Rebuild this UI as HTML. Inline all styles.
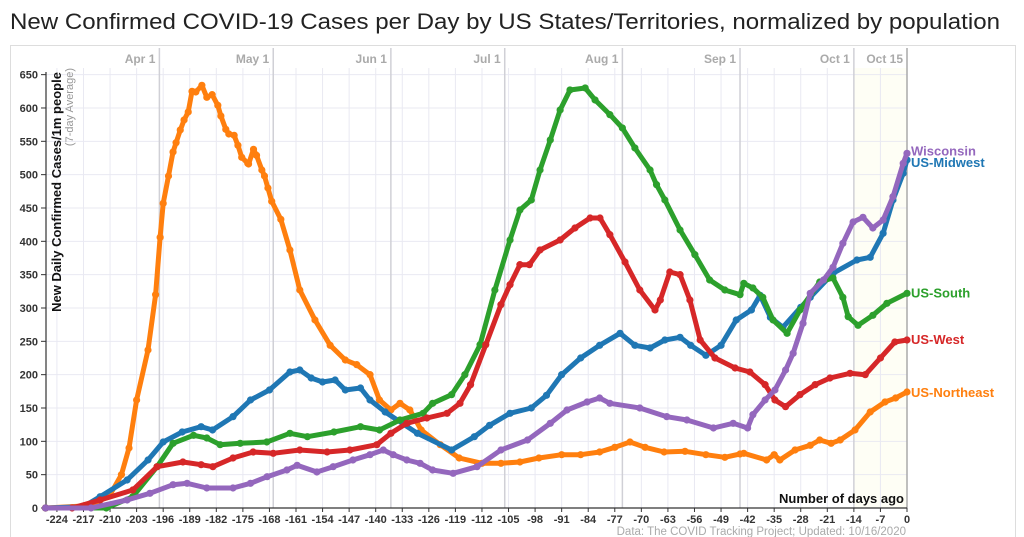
<!DOCTYPE html>
<html><head><meta charset="utf-8"><style>
html,body{margin:0;padding:0;background:#fff;}
svg{display:block;font-family:"Liberation Sans",sans-serif;}
</style></head><body>
<svg id="chart" width="1024" height="537" viewBox="0 0 1024 537" xmlns="http://www.w3.org/2000/svg">
<text x="10" y="29" font-size="22" fill="#222" textLength="990" lengthAdjust="spacingAndGlyphs">New Confirmed COVID-19 Cases per Day by US States/Territories, normalized by population</text>
<rect x="10.5" y="45.5" width="1005" height="500" fill="none" stroke="#ddd"/>
<g id="plot"></g>
</svg>
<script>
const xTicks=[-224,-217,-210,-203,-196,-189,-182,-175,-168,-161,-154,-147,-140,-133,-126,-119,-112,-105,-98,-91,-84,-77,-70,-63,-56,-49,-42,-35,-28,-21,-14,-7,0];
const yTicks=[0,50,100,150,200,250,300,350,400,450,500,550,600,650];
const monthLabels=["Apr 1","May 1","Jun 1","Jul 1","Aug 1","Sep 1","Oct 1","Oct 15"];
const monthDays=[-197,-167,-136,-106,-75,-44,-14,0];

const neDays=[-227,-217,-213,-210,-207,-205,-203,-200,-198,-196.8,-196,-194.6,-193.4,-192.6,-191.5,-190.5,-189.4,-188.4,-187.4,-185.8,-184.5,-183.1,-181.6,-180.8,-179.5,-178.7,-177.3,-176.3,-175.3,-173.7,-173.5,-172.2,-171.4,-170,-169.3,-168.4,-167.4,-165,-162.6,-160,-156,-152,-148,-145,-141.5,-139,-136,-133.6,-131,-128,-123,-118,-112,-107,-102,-97,-91,-86,-81,-77,-73,-69,-64,-58.5,-53,-48,-44,-43,-37,-35,-33.5,-29.5,-25.5,-23,-20,-17.6,-13.7,-9.7,-5.8,-3,0];
const neVals=[0,3,10,20,50,90,162,237,320,406,457,498,534,548,567,582,594,625,624,634,616,620,604,588,568,561,559,544,526,517,516,538,529,507,498,480,460,433,387,327,282,244,222,215,200,162,147,157,147,117,95,75,67,67,69,75,80,80,84,91,99,91,84,85,80,76,81,82,72,80,72,87,94,102,97,102,117,144,159,165,174,177];

const mwDays=[-227,-217,-212.6,-205.5,-200,-196,-191,-186,-183,-177.6,-173,-168,-162.6,-160,-157,-154,-150.7,-148,-144,-141.5,-137.5,-129,-120,-114,-110,-104.6,-99,-95,-91,-86,-81,-75.6,-71.7,-67.7,-63.8,-59.8,-57,-53,-49,-45,-41,-38.7,-36,-32.7,-28,-25.5,-19.5,-13.2,-9.7,-6.3,-3.7,-1,0];
const mwVals=[0,2,17,42,72,99,114,122,117,137,162,177,204,207,195,189,192,177,180,162,144,112,87,107,124,142,150,169,200,225,244,262,244,240,252,256,244,229,244,282,297,319,286,271,301,316,352,372,376,412,462,502,522];

const soDays=[-227,-211,-204,-197.6,-193.4,-188,-184.5,-181,-175.7,-168.7,-162.6,-158,-151,-144,-139,-133.6,-127.5,-125,-120,-116.5,-112.5,-108.6,-104.6,-102,-99,-96.7,-94,-91.4,-88.8,-84.8,-82.2,-78.3,-75,-71.7,-67.7,-66,-63.8,-59.8,-55.9,-52,-48,-44,-43,-40.6,-38,-35.3,-31.6,-28.2,-23,-19.5,-16.9,-15.5,-12.9,-9,-5.3,0];
const soVals=[0,0,17,62,97,109,105,95,97,99,112,107,114,122,117,132,142,157,170,200,245,327,402,447,462,507,552,597,627,630,612,590,570,540,507,485,462,417,380,342,327,320,337,330,316,282,262,297,339,345,316,287,274,289,307,322];

const weDays=[-227,-220,-212.6,-204,-197.6,-190.8,-186,-182.9,-177.6,-172.3,-167,-160,-152.8,-146.8,-139.7,-136,-131.8,-126.5,-121.2,-117.8,-115,-111,-107,-104.6,-102,-99.5,-96.7,-91.4,-87.5,-83.5,-80.9,-78.3,-74.3,-70.4,-66.4,-65,-62.5,-59.8,-57.2,-54.5,-50.6,-45.3,-41.4,-37.4,-34.8,-32,-28.2,-24.2,-20.3,-15,-11,-7,-3.2,0];
const weVals=[0,0,12,27,62,69,65,62,75,84,82,87,84,87,95,112,127,135,142,157,185,245,305,335,365,365,387,402,420,435,435,410,369,327,297,312,354,350,312,252,225,210,204,185,162,152,170,185,195,202,200,225,249,252];

const wiDays=[-227,-215,-205.5,-199.5,-193.4,-189.7,-184.5,-177.6,-173,-168.6,-163.4,-160.7,-155.5,-151.2,-146,-141.5,-138,-135.4,-131.8,-128.3,-125,-119.6,-113.3,-107,-100,-94,-89.6,-84.3,-81,-78.3,-70.4,-63.3,-58,-51,-45.8,-42,-40.6,-37.4,-34.8,-32,-30,-27.4,-25.5,-22,-19.5,-16.9,-14.2,-11.6,-9,-6.3,-3.7,-1,0];
const wiVals=[0,0,12,22,35,37,30,30,37,47,57,64,54,62,72,80,87,80,72,67,57,52,62,87,102,127,147,159,165,157,150,137,132,120,127,120,140,162,177,207,232,277,322,342,361,397,429,436,420,432,467,517,532];

const seriesNames=["us-northeast","us-midwest","us-south","us-west","wisconsin"];
const seriesColors=["#ff7f0e","#1f77b4","#2ca02c","#d62728","#9467bd"];
const seriesDays=[neDays,mwDays,soDays,weDays,wiDays];
const seriesVals=[neVals,mwVals,soVals,weVals,wiVals];
const labelTexts=["US-Northeast","US-Midwest","US-South","US-West","Wisconsin"];
const labelOffsets=[2,2,-1,-1,-3];

const X0=907,PX=3.795,Y0=508,PY=0.6667,XL=46;
function xs(d){return X0+PX*d;}
function ys(v){return Y0-PY*v;}
const NS="http://www.w3.org/2000/svg";
const plot=document.getElementById('plot');
function mk(tag,attrs,parent){const e=document.createElementNS(NS,tag);for(const k in attrs)e.setAttribute(k,attrs[k]);(parent||plot).appendChild(e);return e;}

let hl=mk('rect',{x:xs(-14),y:ys(660),width:xs(0)-xs(-14),height:Y0-ys(660),fill:'#fefef5'});


xTicks.forEach(t=>{let l=mk('line',{x1:xs(t),x2:xs(t),y1:ys(660),y2:Y0,stroke:'#e9e9f2','stroke-width':1});

});
yTicks.forEach(t=>{let l=mk('line',{x1:XL,x2:xs(0),y1:ys(t),y2:ys(t),stroke:'#e9e9f2','stroke-width':1});

});
monthDays.forEach((d,i)=>{let l=mk('line',{x1:xs(d),x2:xs(d),y1:48,y2:Y0,stroke:i==7?'#aaa':'#d0d0d6','stroke-width':1.5});


let t=mk('text',{x:xs(d)-4,y:63,'font-size':12,fill:'#aaa','text-anchor':'end','font-weight':'bold'});
t.textContent=monthLabels[i];

});
let ax=mk('path',{d:`M${XL} 72 V${Y0} H${xs(0)}`,fill:'none',stroke:'#333','stroke-width':1.2});


yTicks.forEach(t=>{mk('line',{x1:XL-5,x2:XL,y1:ys(t),y2:ys(t),stroke:'#333'});
let tx=mk('text',{x:XL-8,y:ys(t)+4,'font-size':11,fill:'#333','text-anchor':'end','font-weight':'bold'});
tx.textContent=t;

});
xTicks.forEach(t=>{mk('line',{x1:xs(t),x2:xs(t),y1:Y0,y2:Y0+4,stroke:'#333'});
let tx=mk('text',{x:xs(t),y:Y0+15,'font-size':11,fill:'#333','text-anchor':'middle','font-weight':'bold'});
tx.textContent=t;

});
seriesNames.forEach((n,i)=>{
 const g=mk('g',{});
 
 
 const D=seriesDays[i],V=seriesVals[i];
 let d=D.map((dd,j)=>(j?'L':'M')+xs(dd).toFixed(1)+' '+ys(V[j]).toFixed(1)).join(' ');
 mk('path',{d:d,fill:'none',stroke:seriesColors[i],'stroke-width':5,'stroke-linejoin':'round'},g);
 D.forEach((dd,j)=>{let c=mk('circle',{cx:xs(dd),cy:ys(V[j]),r:3.6,fill:seriesColors[i]},g);
 
 });
 const lv=V[V.length-1];
 let lb=mk('text',{x:xs(0)+4,y:ys(lv)+5+labelOffsets[i],'font-size':13,'font-weight':'bold',fill:seriesColors[i]});
 lb.textContent=labelTexts[i];
 
 
});
let yt=mk('text',{transform:'translate(61,192) rotate(-90)','font-size':13,'font-weight':'bold',fill:'#111','text-anchor':'middle'});
yt.textContent='New Daily Confirmed Cases/1m people';


let ys2=mk('text',{transform:'translate(73,68) rotate(-90)','font-size':11,fill:'#999','text-anchor':'end'});
ys2.textContent='(7-day Average)';


let xt=mk('text',{x:904,y:503,'font-size':13,'font-weight':'bold',fill:'#111','text-anchor':'end'});
xt.textContent='Number of days ago';


let src=mk('text',{x:906,y:535,'font-size':11.5,fill:'#aaa','text-anchor':'end'});
src.textContent='Data: The COVID Tracking Project; Updated: 10/16/2020';


</script>
</body></html>
